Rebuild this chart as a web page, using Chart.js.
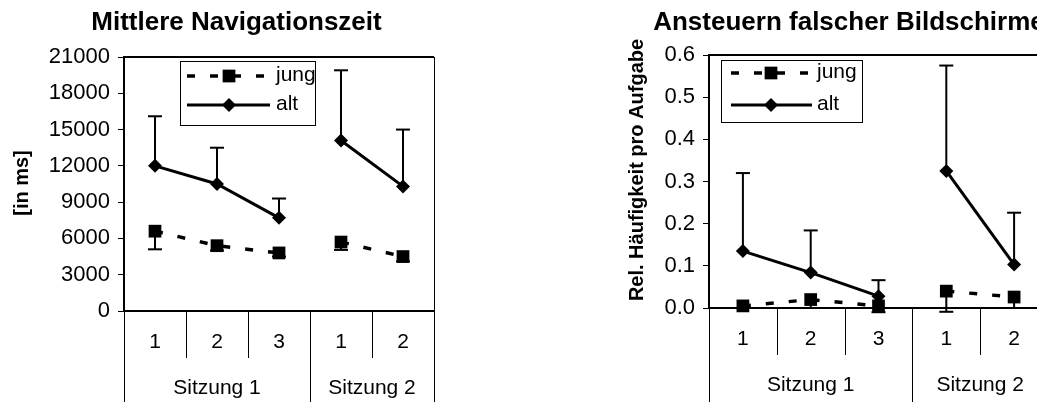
<!DOCTYPE html>
<html><head><meta charset="utf-8">
<script src="https://cdn.jsdelivr.net/npm/chart.js@4.4.1/dist/chart.umd.min.js"></script>
<style>
html,body{margin:0;padding:0;background:#fff;overflow:hidden;}
#wrap{position:relative;width:1037px;height:402px;overflow:hidden;background:#fff;}
#c1{position:absolute;left:0;top:0;}
#c2{position:absolute;left:560px;top:0;}
</style></head><body>
<div id="wrap">
<canvas id="c1" width="473" height="402"></canvas>
<canvas id="c2" width="578" height="402"></canvas>
</div>
<script>
// ---------- data ----------
const categories = ['1', '2', '3', '1', '2'];
const groups = ['Sitzung 1', 'Sitzung 2'];
const groupSpans = [3, 2];
const seriesNames = ['jung', 'alt'];

// Chart 1: Mittlere Navigationszeit
const navTitle = 'Mittlere Navigationszeit';
const navAxisTitle = '[in ms]';
const navTicks = [0, 3000, 6000, 9000, 12000, 15000, 18000, 21000];
const navJung = [6600, 5400, 4800, 5700, 4500];
const navJungErr = [1500, 400, 300, 650, 400];
const navAlt = [12000, 10500, 7700, 14100, 10300];
const navAltErr = [4100, 3000, 1600, 5800, 4700];

// Chart 2: Ansteuern falscher Bildschirme
const falTitle = 'Ansteuern falscher Bildschirme';
const falAxisTitle = 'Rel. Häufigkeit pro Aufgabe';
const falTicks = [0, 0.1, 0.2, 0.3, 0.4, 0.5, 0.6];
const falJung = [0.005, 0.02, 0.005, 0.04, 0.026];
const falJungErr = [0.005, 0.02, 0.015, 0.049, 0.026];
const falAlt = [0.135, 0.084, 0.028, 0.325, 0.103];
const falAltErr = [0.185, 0.1, 0.038, 0.25, 0.123];

// ---------- helpers ----------
const FONT = '"Liberation Sans", Arial, Helvetica, sans-serif';
Chart.defaults.font.family = FONT;
Chart.defaults.color = '#000';

const breakIdx = [];
{ let c = 0; for (let k = 0; k < groupSpans.length - 1; k++) { c += groupSpans[k]; breakIdx.push(c - 1); } }
const groupEdges = [0];
{ let c = 0; groupSpans.forEach(s => { c += s; groupEdges.push(c); }); }

function line(ctx, x1, y1, x2, y2) { ctx.beginPath(); ctx.moveTo(x1, y1); ctx.lineTo(x2, y2); ctx.stroke(); }

function drawMarker(ctx, style, x, y, r) {
  ctx.beginPath();
  if (style === 'rect') {
    const s = Math.SQRT1_2 * r;
    ctx.rect(x - s, y - s, 2 * s, 2 * s);
  } else {
    ctx.moveTo(x - r, y); ctx.lineTo(x, y - r); ctx.lineTo(x + r, y); ctx.lineTo(x, y + r); ctx.closePath();
  }
  ctx.fill();
}

const errorBars = {
  id: 'errorBars',
  beforeDatasetsDraw(chart) {
    const { ctx } = chart; const ys = chart.scales.y;
    chart.data.datasets.forEach((ds, i) => {
      const meta = chart.getDatasetMeta(i);
      ctx.save(); ctx.strokeStyle = '#000'; ctx.lineWidth = 2; ctx.setLineDash([]);
      meta.data.forEach((pt, j) => {
        const yEnd = ys.getPixelForValue(ds.data[j] + ds.errorDir * ds.errors[j]);
        line(ctx, pt.x, pt.y, pt.x, yEnd);
        line(ctx, pt.x - 7, yEnd, pt.x + 7, yEnd);
      });
      ctx.restore();
    });
  }
};

const frame = {
  id: 'frame',
  afterDraw(chart, args, opts) {
    const { ctx, chartArea: a } = chart; const H = chart.height;
    const xs = chart.scales.x;
    const w = xs.getPixelForValue(1) - xs.getPixelForValue(0);
    const x0 = xs.getPixelForValue(0) - w / 2;
    ctx.save(); ctx.strokeStyle = '#000'; ctx.fillStyle = '#000'; ctx.setLineDash([]);
    ctx.lineWidth = 2; line(ctx, a.left - 1, a.top, a.right, a.top);
    ctx.lineWidth = 1; line(ctx, Math.round(a.right) + 0.5, a.top, Math.round(a.right) + 0.5, H);
    for (let i = 0; i <= categories.length; i++) {
      const x = Math.round(x0 + i * w) + 0.5;
      const y2 = groupEdges.includes(i) ? H : a.bottom + 47;
      line(ctx, x, a.bottom, x, y2);
    }
    ctx.font = '21px ' + FONT; ctx.textAlign = 'center'; ctx.textBaseline = 'alphabetic';
    let start = 0;
    groups.forEach((g, k) => {
      ctx.fillText(g, x0 + (start + groupSpans[k] / 2) * w, a.bottom + 83);
      start += groupSpans[k];
    });
    // y axis title
    ctx.save(); ctx.translate(opts.titleX, opts.titleY); ctx.rotate(-Math.PI / 2);
    ctx.font = 'bold 20px ' + FONT; ctx.textBaseline = 'middle'; ctx.fillText(opts.axisTitle, 0, 0);
    ctx.restore();
    // legend
    const L = opts.legend;
    ctx.fillStyle = '#fff'; ctx.fillRect(L.x, L.y, L.w, L.h);
    ctx.lineWidth = 1; ctx.strokeRect(L.x + 0.5, L.y + 0.5, L.w, L.h);
    chart.data.datasets.forEach((ds, i) => {
      const yy = L.rows[i];
      ctx.strokeStyle = '#000'; ctx.fillStyle = '#000';
      ctx.lineWidth = ds.borderWidth; ctx.setLineDash(ds.borderDash || []);
      ctx.lineDashOffset = 0;
      line(ctx, L.s0, yy, L.s1, yy);
      ctx.setLineDash([]);
      drawMarker(ctx, ds.pointStyle, L.m, yy, ds.pointRadius);
      ctx.font = '21px ' + FONT; ctx.textAlign = 'left'; ctx.textBaseline = 'middle';
      ctx.fillText(ds.label, L.tx, yy - 1);
    });
    ctx.restore();
  }
};

function makeChart(id, cfg) {
  const segColor = c => breakIdx.includes(c.p0DataIndex) ? 'rgba(0,0,0,0)' : '#000';
  return new Chart(document.getElementById(id), {
    type: 'line',
    data: {
      labels: categories,
      datasets: [
        { label: seriesNames[0], data: cfg.jung, errors: cfg.jungErr, errorDir: -1,
          borderColor: '#000', backgroundColor: '#000', borderWidth: 3.5, borderDash: [8, 15],
          pointStyle: 'rect', pointRadius: 9, pointBorderWidth: 0, pointBackgroundColor: '#000',
          segment: { borderColor: segColor }, clip: false, tension: 0 },
        { label: seriesNames[1], data: cfg.alt, errors: cfg.altErr, errorDir: 1,
          borderColor: '#000', backgroundColor: '#000', borderWidth: 3,
          pointStyle: 'rectRot', pointRadius: 7, pointBorderWidth: 0, pointBackgroundColor: '#000',
          segment: { borderColor: segColor }, clip: false, tension: 0 }
      ]
    },
    options: {
      responsive: false, animation: false, devicePixelRatio: 1,
      layout: { padding: 0 },
      scales: {
        x: {
          offset: true,
          grid: { display: false, drawTicks: false },
          border: { display: true, width: 2, color: '#000' },
          ticks: { font: { size: 21 }, color: '#000', padding: 19, maxRotation: 0, autoSkip: false },
          afterFit: s => { s.height = 402 - cfg.bottom; }
        },
        y: {
          min: cfg.ticks[0], max: cfg.ticks[cfg.ticks.length - 1],
          afterBuildTicks: s => { s.ticks = cfg.ticks.map(v => ({ value: v })); },
          grid: { display: true, drawOnChartArea: false, drawTicks: true, tickLength: 6, color: '#000', lineWidth: 1 },
          border: { display: true, width: 2, color: '#000' },
          ticks: { font: { size: 22 }, color: '#000', padding: 8, callback: cfg.fmt },
          afterFit: s => { s.width = cfg.left; }
        },
        yRight: {
          position: 'right', display: true,
          grid: { display: false, drawTicks: false },
          border: { display: false },
          ticks: { display: false },
          afterFit: s => { s.width = cfg.padRight; }
        }
      },
      plugins: {
        legend: { display: false },
        tooltip: { enabled: false },
        title: { display: true, text: cfg.title, color: '#000', font: { size: 26, weight: 'bold' },
                 padding: { top: 7, bottom: cfg.top - 7 - 31.2 } },
        frame: { axisTitle: cfg.axisTitle, titleX: cfg.titleX, titleY: cfg.titleY, legend: cfg.legend }
      }
    },
    plugins: [errorBars, frame]
  });
}

makeChart('c1', {
  title: navTitle, axisTitle: navAxisTitle, ticks: navTicks,
  jung: navJung, jungErr: navJungErr, alt: navAlt, altErr: navAltErr,
  fmt: v => String(v), left: 124, padRight: 473 - 434, top: 57, bottom: 311,
  titleX: 22, titleY: 183,
  legend: { x: 180, y: 61, w: 135, h: 64, rows: [76, 105], s0: 187, s1: 270, m: 229, tx: 276 }
});

makeChart('c2', {
  title: falTitle, axisTitle: falAxisTitle, ticks: falTicks,
  jung: falJung, jungErr: falJungErr, alt: falAlt, altErr: falAltErr,
  fmt: v => Number(v).toFixed(1), left: 149, padRight: 578 - 488, top: 55, bottom: 308,
  titleX: 77, titleY: 170,
  legend: { x: 161, y: 60, w: 141, h: 62, rows: [73, 105], s0: 171, s1: 252, m: 211, tx: 257 }
});
</script>
</body></html>
